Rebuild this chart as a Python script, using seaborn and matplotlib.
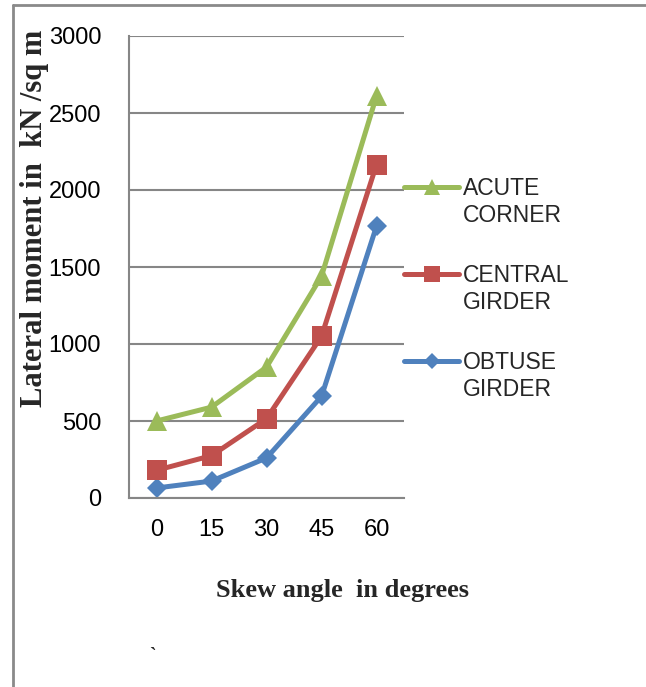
import matplotlib
matplotlib.use("Agg")
import matplotlib.pyplot as plt
from matplotlib.lines import Line2D
import seaborn as sns
import pandas as pd

angles = ["0", "15", "30", "45", "60"]
acute_corner = [500, 590, 850, 1440, 2610]
central_girder = [180, 275, 515, 1050, 2165]
obtuse_girder = [65, 110, 260, 660, 1765]
y_ticks = [0, 500, 1000, 1500, 2000, 2500, 3000]

sns.set_theme(style="white")
plt.rcParams['font.family'] = ['Liberation Sans Narrow', 'Liberation Sans', 'DejaVu Sans']

fig = plt.figure(figsize=(6.46, 6.87), dpi=100)
ax = fig.add_axes([129/646, 1-498/687, 275/646, 462/687])

series = [
    ("OBTUSE\nGIRDER", obtuse_girder, "#4F81BD", "D", 10.5),
    ("CENTRAL\nGIRDER", central_girder, "#C0504D", "s", 14),
    ("ACUTE\nCORNER", acute_corner, "#9BBB59", "^", 15),
]
for name, vals, col, mk, ms in series:
    df = pd.DataFrame({"angle": angles, "value": vals})
    sns.pointplot(data=df, x="angle", y="value", order=angles, color=col,
                  marker=mk, markersize=ms, linewidth=3.6, ax=ax,
                  markeredgewidth=0, errorbar=None)

ax.set_ylim(0, 3000)
ax.set_xlim(-0.5, 4.5)
ax.set_yticks(y_ticks)
ax.yaxis.grid(True, color="#868686", linewidth=1.5)
ax.set_axisbelow(True)
for s in ["top", "right"]:
    ax.spines[s].set_visible(False)
for s in ["left", "bottom"]:
    ax.spines[s].set_color("#868686")
    ax.spines[s].set_linewidth(1.5)
ax.tick_params(axis="both", length=0, labelsize=17, colors="black")
ax.tick_params(axis="y", pad=20)
ax.tick_params(axis="x", pad=15)
ax.set_xlabel("")
ax.set_ylabel("")

# legend
lfs = 16.5
handles = []
labels = []
for name, vals, col, mk, ms in reversed(series):
    handles.append(Line2D([], [], color=col, marker=mk, markersize=ms * 0.8,
                          linewidth=3.6, markeredgewidth=0))
    labels.append(name.split("\n")[0])
leg = ax.legend(handles, labels, loc="center left", bbox_to_anchor=(1.0, 0.482),
                frameon=False, fontsize=lfs, handlelength=2.4, handletextpad=0.17,
                borderpad=0, borderaxespad=0, labelspacing=2.8)
fig.canvas.draw()
for t, (name, *_rest) in zip(leg.get_texts(), reversed(series)):
    second = name.split("\n")[1]
    ax.annotate(second, xy=(0, 0), xycoords=t, xytext=(0, -3),
                textcoords="offset points", ha="left", va="top", fontsize=lfs,
                annotation_clip=False)

serif = ['Liberation Serif', 'DejaVu Serif']
fig.text(342/646, 1-590/687, "Skew angle  in degrees", ha="center", va="center",
         fontsize=19, fontweight="bold", family=serif)
fig.text(35/646, 1-218/687, "Lateral moment in  kN /sq m", ha="center", va="center",
         rotation=90, fontsize=22, fontweight="bold", family=serif)
fig.text(152/646, 1-656/687, "`", ha="center", va="center", fontsize=14,
         fontweight="bold", family=serif)

# page border
bx = 13/646
by = 1 - 5/687
fig.add_artist(Line2D([bx, bx], [0, by], transform=fig.transFigure, color="#8a8a8a", linewidth=2))
fig.add_artist(Line2D([bx, 1], [by, by], transform=fig.transFigure, color="#8a8a8a", linewidth=2))

fig.savefig("out.png", dpi=100)
